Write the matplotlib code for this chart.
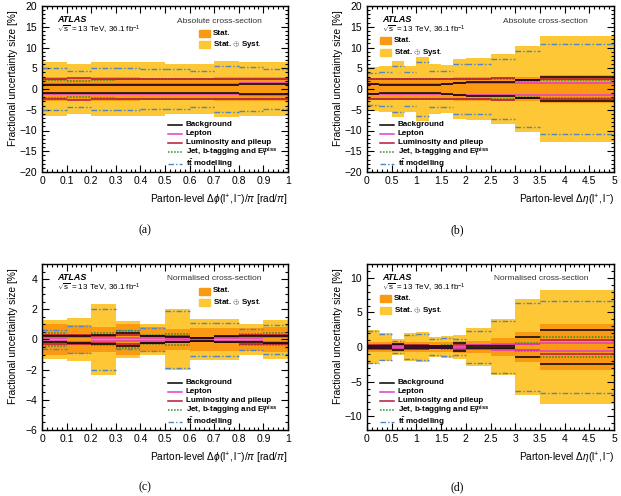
import numpy as np
import matplotlib
matplotlib.use('Agg')
import matplotlib.pyplot as plt
from matplotlib.patches import Rectangle

plt.rcParams['font.family'] = ['Liberation Sans', 'DejaVu Sans']
plt.rcParams['mathtext.fontset'] = 'custom'
plt.rcParams['mathtext.rm'] = 'Liberation Sans'
plt.rcParams['mathtext.it'] = 'Liberation Sans:italic'
plt.rcParams['mathtext.bf'] = 'Liberation Sans:bold'

# bin edges
dphi_edges = [0, 0.1, 0.2, 0.3, 0.4, 0.5, 0.6, 0.7, 0.8, 0.9, 1.0]
deta_edges = [0, 0.25, 0.5, 0.75, 1.0, 1.25, 1.5, 1.75, 2.0, 2.5, 3.0, 3.5, 5.0]

# (a) absolute, delta phi
total_a = [6.4, 6.0, 6.5, 6.5, 6.4, 6.1, 6.1, 6.8, 6.5, 6.4]
stat_a = [2.8, 2.7, 2.8, 2.8, 2.7, 2.7, 2.7, 2.8, 2.8, 2.8]
modelling_a = [5.0, 4.4, 5.1, 5.0, 4.8, 4.7, 4.4, 5.5, 5.2, 4.9]
jet_a = [2.1, 2.0, 2.1, 2.3, 2.4, 2.4, 2.3, 2.4, 2.4, 2.3]
lumi_a = [2.5, 2.6, 2.4, 2.4, 2.3, 2.3, 2.3, 2.3, 2.4, 2.5]
background_a = [1.0, 1.0, 0.9, 0.9, 0.9, 0.9, 0.9, 1.0, 1.1, 1.2]
lepton_a = [1.2, 1.2, 1.2, 1.2, 1.2, 1.2, 1.2, 1.3, 1.4, 1.5]

# (b) absolute, delta eta
total_b = [5.3, 5.5, 6.7, 5.6, 7.6, 6.0, 5.8, 7.2, 7.4, 8.5, 10.3, 12.7]
stat_b = [2.7, 2.7, 2.7, 2.7, 2.7, 2.7, 2.7, 2.8, 2.8, 2.9, 3.0, 3.4]
modelling_b = [3.8, 4.0, 5.6, 4.2, 6.6, 4.3, 4.3, 6.0, 6.1, 7.3, 9.1, 10.8]
jet_b = [2.3, 2.3, 2.3, 2.3, 2.3, 2.3, 2.3, 2.4, 2.4, 2.3, 2.0, 2.1]
lumi_b = [2.5, 2.5, 2.5, 2.5, 2.5, 2.5, 2.5, 2.5, 2.5, 2.6, 2.1, 2.5]
background_b = [1.1, 1.0, 0.9, 0.9, 0.9, 0.9, 1.2, 1.5, 1.6, 1.8, 2.2, 3.0]
lepton_b = [1.2, 1.2, 1.2, 1.2, 1.2, 1.2, 1.3, 1.4, 1.4, 1.5, 1.5, 1.5]

# (c) normalised, delta phi
total_c = [1.28, 1.4, 2.34, 1.22, 1.05, 2.0, 1.35, 1.35, 1.05, 1.28]
stat_c = [1.0, 0.95, 0.85, 1.0, 0.8, 0.72, 0.75, 0.75, 0.75, 0.85]
modelling_c = [0.6, 0.9, 2.0, 0.62, 0.76, 1.86, 1.08, 1.08, 0.72, 0.98]
jet_c = [0.45, 0.2, 0.4, 0.55, 0.3, 0.35, 0.12, 0.15, 0.35, 0.4]
lumi_c = [0.3, 0.3, 0.25, 0.3, 0.25, 0.2, 0.1, 0.15, 0.3, 0.3]
background_c = [0.2, 0.25, 0.3, 0.45, 0.25, 0.15, 0.1, 0.2, 0.2, 0.25]
lepton_c = [0.1, 0.15, 0.1, 0.1, 0.1, 0.05, 0.05, 0.1, 0.1, 0.15]

# (d) normalised, delta eta
total_d = [2.5, 2.0, 1.15, 2.0, 2.15, 1.45, 1.6, 1.8, 2.75, 4.1, 6.9, 8.3]
stat_d = [0.75, 0.75, 0.75, 0.75, 0.75, 0.75, 0.75, 0.8, 0.85, 1.3, 2.1, 3.3]
modelling_d = [2.3, 1.85, 0.9, 1.75, 1.95, 1.15, 1.3, 1.1, 2.3, 3.8, 6.4, 6.7]
jet_d = [0.2, 0.25, 0.3, 0.3, 0.25, 0.2, 0.25, 0.3, 0.3, 0.3, 0.6, 1.45]
lumi_d = [0.25, 0.3, 0.25, 0.3, 0.25, 0.2, 0.2, 0.3, 0.3, 0.3, 0.5, 1.0]
background_d = [0.1, 0.15, 0.4, 0.2, 0.15, 0.15, 0.2, 0.6, 0.2, 0.2, 1.4, 2.45]
lepton_d = [0.1, 0.1, 0.1, 0.1, 0.1, 0.1, 0.15, 0.2, 0.25, 0.4, 0.5, 0.6]

dphi_ticks = [0, 0.1, 0.2, 0.3, 0.4, 0.5, 0.6, 0.7, 0.8, 0.9, 1.0]
dphi_ticklabels = ['0', '0.1', '0.2', '0.3', '0.4', '0.5', '0.6', '0.7', '0.8', '0.9', '1']
deta_ticks = [0, 0.5, 1, 1.5, 2, 2.5, 3, 3.5, 4, 4.5, 5]
deta_ticklabels = ['0', '0.5', '1', '1.5', '2', '2.5', '3', '3.5', '4', '4.5', '5']

legend_labels = ['Background', 'Lepton', 'Luminosity and pileup',
                 r'Jet, b-tagging and $\mathbf{E}_{\mathbf{T}}^{\mathbf{miss}}$',
                 r'$\mathbf{t\bar{t}}$ modelling']

c_total = '#fdc736'
c_stat = '#fa9a12'
c_lumi = '#b8163c'
c_lepton = '#e23ccf'
c_jet = '#2e8b2e'
c_model = '#4f86c6'

dphi_label = r'Parton-level $\Delta\phi(\mathrm{l^{+},l^{-}})/\pi$ [rad/$\pi$]'
deta_label = r'Parton-level $\Delta\eta(\mathrm{l^{+},l^{-}})$'

fig = plt.figure(figsize=(6.21, 4.96), dpi=100)
W, H = 621, 496


def panel(rect, edges, total, stat, model, jet, lumi, bkg, lep, ylim, yticks,
          ymin_step, xticks, xticklabels, xmin_step, xlabel, title, tag,
          stat_leg_left, tag_x, tag_y):
    x0, y0, x1, y1 = rect
    aw, ah = x1 - x0, y1 - y0
    ax = fig.add_axes([x0 / W, 1 - y1 / H, aw / W, ah / H])
    edges = np.array(edges)
    total = np.array(total)
    stat = np.array(stat)
    ax.stairs(total, edges, baseline=-total, fill=True, color=c_total, lw=0)
    ax.stairs(stat, edges, baseline=-stat, fill=True, color=c_stat, lw=0)
    lo, hi = edges[:-1], edges[1:]
    styles = [
        (bkg, dict(color='black', linestyle='-', lw=1.1)),
        (lep, dict(color=c_lepton, linestyle='-', lw=1.1)),
        (lumi, dict(color=c_lumi, linestyle='-', lw=1.1)),
        (jet, dict(color=c_jet, linestyle=(0, (1, 1)), lw=1.1)),
        (model, dict(color=c_model, linestyle=(0, (4, 1.5, 1, 1.5)), lw=1.0)),
    ]
    for vals, kw in styles[::-1]:
        vals = np.array(vals)
        ax.hlines(vals, lo, hi, **kw)
        ax.hlines(-vals, lo, hi, **kw)

    ax.set_xlim(edges[0], edges[-1])
    ax.set_ylim(*ylim)
    ax.set_yticks(yticks)
    ax.set_xticks(xticks)
    ax.set_xticklabels(xticklabels)
    ax.yaxis.set_minor_locator(plt.MultipleLocator(ymin_step))
    ax.xaxis.set_minor_locator(plt.MultipleLocator(xmin_step))
    ax.tick_params(which='both', direction='in', top=True, right=True, labelsize=7.5,
                   width=0.8, colors='black')
    ax.tick_params(which='major', length=5)
    ax.tick_params(which='minor', length=2.5)
    ax.tick_params(axis='x', pad=3)
    for s in ax.spines.values():
        s.set_linewidth(1.0)
    ax.set_xlabel(xlabel, fontsize=7.3, loc='right', labelpad=5)
    ax.set_ylabel('Fractional uncertainty size [%]', fontsize=7.3, loc='top')
    ax.yaxis.set_label_coords(-24 / aw, 1 - 4 / ah)

    ax.text(15 / aw, 1 - 13.5 / ah, 'ATLAS', transform=ax.transAxes, fontsize=6.5,
            fontweight='bold', style='italic', va='center')
    ax.text(15 / aw, 1 - 23.5 / ah, r'$\sqrt{\mathrm{s}}$ = 13 TeV, 36.1 fb$^{-1}$',
            transform=ax.transAxes, fontsize=5.8, va='center')
    ax.text(1 - 26 / aw, 1 - 15 / ah, title, transform=ax.transAxes, fontsize=6,
            ha='right', va='center', color='#333333')

    # stat legend boxes
    if stat_leg_left:
        bx, by = 13, [34, 46]
    else:
        bx, by = 157, [27, 38]
    for yy, col, lab in zip(by, [c_stat, c_total], ['Stat.', r'Stat. $\oplus$ Syst.']):
        ax.add_patch(Rectangle((bx / aw, 1 - (yy + 3.5) / ah), 11 / aw, 7 / ah,
                               transform=ax.transAxes, color=col, clip_on=False))
        ax.text((bx + 14) / aw, 1 - yy / ah, lab, transform=ax.transAxes, fontsize=5.8,
                fontweight='bold', va='center')

    # systematic component legend
    lx = 13 if stat_leg_left else 126
    rows = [118.5, 127.5, 136.5, 146, 157.5]
    for yy, (vals, kw), lab in zip(rows, styles, legend_labels):
        ax.plot([lx / aw, (lx + 14) / aw], [1 - yy / ah, 1 - yy / ah],
                transform=ax.transAxes, clip_on=False, **kw)
        ax.text((lx + 18) / aw, 1 - yy / ah, lab, transform=ax.transAxes,
                fontsize=5.8, fontweight='bold', va='center')

    fig.text(tag_x / W, 1 - tag_y / H, tag, fontsize=8.5, family='Liberation Serif',
             ha='center', va='center')
    return ax


panel((42, 6, 288, 172), dphi_edges, total_a, stat_a, modelling_a, jet_a, lumi_a,
      background_a, lepton_a, (-20, 20), [-20, -15, -10, -5, 0, 5, 10, 15, 20], 1,
      dphi_ticks, dphi_ticklabels, 0.02, dphi_label, 'Absolute cross-section', '(a)',
      False, 145, 230)
panel((367, 6, 614, 172), deta_edges, total_b, stat_b, modelling_b, jet_b, lumi_b,
      background_b, lepton_b, (-20, 20), [-20, -15, -10, -5, 0, 5, 10, 15, 20], 1,
      deta_ticks, deta_ticklabels, 0.1, deta_label, 'Absolute cross-section', '(b)',
      True, 457, 230)
panel((42, 264, 288, 430), dphi_edges, total_c, stat_c, modelling_c, jet_c, lumi_c,
      background_c, lepton_c, (-6, 5), [-6, -4, -2, 0, 2, 4], 0.5,
      dphi_ticks, dphi_ticklabels, 0.02, dphi_label, 'Normalised cross-section', '(c)',
      False, 145, 487)
panel((367, 264, 614, 430), deta_edges, total_d, stat_d, modelling_d, jet_d, lumi_d,
      background_d, lepton_d, (-12, 12), [-10, -5, 0, 5, 10], 1,
      deta_ticks, deta_ticklabels, 0.1, deta_label, 'Normalised cross-section', '(d)',
      True, 457, 487)

fig.savefig('out.png', dpi=100)
